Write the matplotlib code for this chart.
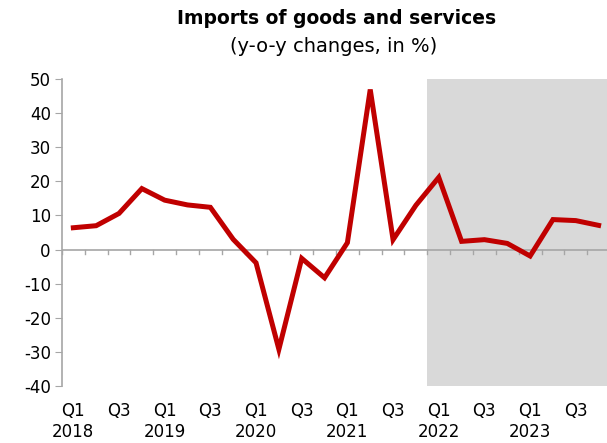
import matplotlib.pyplot as plt
import numpy as np

# quarterly y-o-y changes, Q1 2018 .. Q4 2023
quarters = ["Q1", "Q2", "Q3", "Q4"] * 6
years = ["2018", "2019", "2020", "2021", "2022", "2023"]
imports = [6.4, 7.0, 10.6, 17.9, 14.5, 13.1, 12.4, 3.0,
           -3.9, -29.3, -2.6, -8.3, 2.0, 47.0, 2.9, 13.0,
           21.2, 2.4, 2.9, 1.8, -1.9, 8.8, 8.5, 7.1]
forecast_start = 16  # first forecast quarter (Q1 2022)

x = np.arange(len(imports))
tick_labels = []
for i in range(0, len(imports), 2):
    lab = quarters[i]
    if quarters[i] == "Q1":
        lab += "\n" + years[i // 4]
    tick_labels.append(lab)

plt.rcParams["font.family"] = ["DejaVu Sans"]
plt.rcParams["axes.unicode_minus"] = False

fig = plt.figure(figsize=(6.07, 4.43), dpi=100)
ax = fig.add_axes([0.102, 0.1293, 0.903, 0.6917])

n = len(imports)
ax.axvspan(forecast_start - 0.5, n - 0.5, color="#d9d9d9", lw=0, zorder=0)
ax.plot(x, imports, color="#c00000", lw=3.6, solid_joinstyle="miter", zorder=3)

ax.set_ylim(-40, 50)
ax.set_xlim(-0.5, n - 0.5)
ax.set_yticks(np.arange(-40, 51, 10))

ax.axhline(0, color="#a6a6a6", lw=1.2, zorder=1)
for b in np.arange(-0.5, n, 1):
    ax.plot([b, b], [0, -1.3], color="#a6a6a6", lw=1, zorder=1)

ax.set_xticks(x[::2])
ax.set_xticklabels(tick_labels, fontsize=12, linespacing=1.22)
ax.tick_params(axis="x", length=0, pad=12)
ax.tick_params(axis="y", labelsize=12, color="#a6a6a6", length=5, pad=3)

for s in ["top", "right", "bottom"]:
    ax.spines[s].set_visible(False)
ax.spines["left"].set_color("#a6a6a6")
ax.spines["left"].set_linewidth(1.2)

fig.text(0.555, 0.958, "Imports of goods and services", ha="center", va="center",
         fontsize=13.5, fontweight="bold")
fig.text(0.549, 0.896, "(y-o-y changes, in %)", ha="center", va="center", fontsize=14)

fig.savefig("out.png", dpi=100)
